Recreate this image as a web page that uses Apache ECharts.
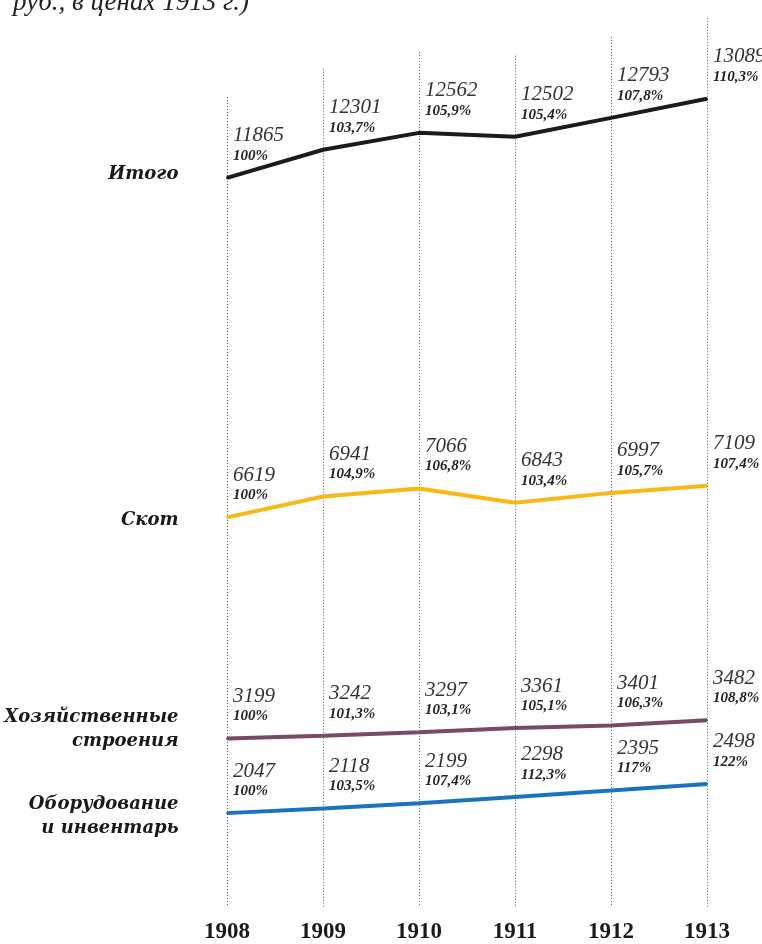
<!DOCTYPE html>
<html>
<head>
<meta charset="utf-8">
<script src="https://cdn.jsdelivr.net/npm/echarts@6/dist/echarts.min.js"></script>
<style>
html,body{margin:0;padding:0;background:#fff;}
#chart{width:762px;height:944px;}
</style>
</head>
<body>
<div id="chart"></div>
<script>
var years = ['1908', '1909', '1910', '1911', '1912', '1913'];
var seriesNames = ['Итого', 'Скот', 'Хозяйственные\nстроения', 'Оборудование\nи инвентарь'];
var totalValues = [11865, 12301, 12562, 12502, 12793, 13089];
var totalPct = ['100%', '103,7%', '105,9%', '105,4%', '107,8%', '110,3%'];
var livestockValues = [6619, 6941, 7066, 6843, 6997, 7109];
var livestockPct = ['100%', '104,9%', '106,8%', '103,4%', '105,7%', '107,4%'];
var buildingsValues = [3199, 3242, 3297, 3361, 3401, 3482];
var buildingsPct = ['100%', '101,3%', '103,1%', '105,1%', '106,3%', '108,8%'];
var equipmentValues = [2047, 2118, 2199, 2298, 2395, 2498];
var equipmentPct = ['100%', '103,5%', '107,4%', '112,3%', '117%', '122%'];
var titleText = 'руб., в ценах 1913 г.)';

var chart = echarts.init(document.getElementById('chart'));

var serifFont = '"Liberation Serif", "DejaVu Serif", serif';
var nameFont = '"DejaVu Serif", "Liberation Serif", serif';

function makeLine(name, values, pcts, color, nameDy) {
  return {
    type: 'line',
    name: name,
    data: values,
    symbol: 'circle',
    symbolSize: 2,
    showSymbol: true,
    itemStyle: { color: color },
    lineStyle: { color: color, width: 4 },
    z: 3,
    label: {
      show: true,
      position: 'right',
      distance: 5,
      offset: [0, -33],
      formatter: function (p) {
        return '{v|' + values[p.dataIndex] + '}\n{p|' + pcts[p.dataIndex] + '}';
      },
      rich: {
        v: { fontFamily: serifFont, fontStyle: 'italic', fontWeight: 'normal', fontSize: 21, lineHeight: 22, color: '#333' },
        p: { fontFamily: serifFont, fontStyle: 'italic', fontWeight: 'bold', fontSize: 15, lineHeight: 18, color: '#222' }
      }
    },
    markPoint: {
      silent: true,
      symbol: 'circle',
      symbolSize: 1,
      itemStyle: { color: 'rgba(0,0,0,0)' },
      data: [{ coord: [0, values[0]] }],
      label: {
        show: true,
        position: 'left',
        distance: 48,
        offset: [0, nameDy],
        formatter: name,
        align: 'right',
        fontFamily: nameFont,
        fontStyle: 'italic',
        fontWeight: 'bold',
        fontSize: 18,
        lineHeight: 24,
        color: '#1a1a1a'
      }
    }
  };
}

var option = {
  animation: false,
  backgroundColor: '#ffffff',
  title: {
    text: titleText,
    left: 8,
    top: -16,
    textStyle: { fontFamily: serifFont, fontStyle: 'italic', fontWeight: 'normal', fontSize: 27, lineHeight: 27, color: '#222' }
  },
  grid: { left: 227, right: 55, top: 12, bottom: 36 },
  xAxis: {
    type: 'category',
    data: years,
    boundaryGap: false,
    axisLine: { show: false },
    axisTick: { show: false },
    splitLine: { show: false },
    axisLabel: {
      margin: 14,
      fontFamily: serifFont,
      fontWeight: 'bold',
      fontSize: 23,
      color: '#1a1a1a'
    }
  },
  yAxis: {
    type: 'value',
    min: 596,
    max: 14430,
    show: false,
    splitLine: { show: false }
  },
  series: [
    {
      type: 'custom',
      data: totalValues.map(function (v, i) { return [i, v]; }),
      silent: true,
      z: 1,
      renderItem: function (params, api) {
        var pt = api.coord([api.value(0), api.value(1)]);
        var cs = params.coordSys;
        return {
          type: 'line',
          shape: { x1: Math.round(pt[0]) + 0.5, y1: pt[1] - 81, x2: Math.round(pt[0]) + 0.5, y2: cs.y + cs.height },
          style: { stroke: '#555', lineWidth: 1, lineDash: [1, 2] }
        };
      },
      encode: { x: 0, y: 1 }
    },
    makeLine(seriesNames[0], totalValues, totalPct, '#1b1b1b', -4),
    makeLine(seriesNames[1], livestockValues, livestockPct, '#f9b813', 3),
    makeLine(seriesNames[2], buildingsValues, buildingsPct, '#7a4965', -9),
    makeLine(seriesNames[3], equipmentValues, equipmentPct, '#1b73bd', 3)
  ]
};

chart.setOption(option);
</script>
</body>
</html>
